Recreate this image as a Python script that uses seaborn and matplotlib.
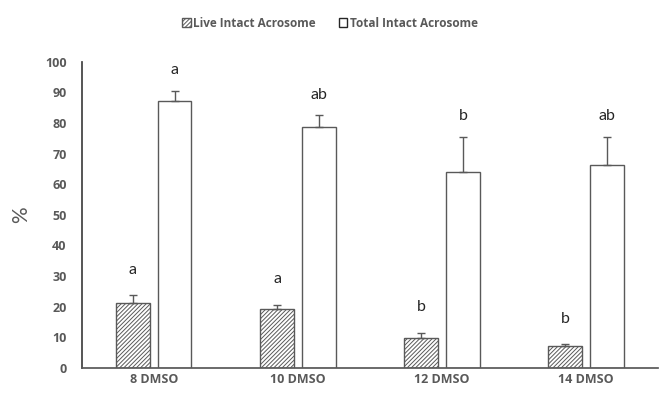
import seaborn as sns
import matplotlib.pyplot as plt
import pandas as pd
from matplotlib.patches import Patch

sns.set_theme(style="white")
plt.rcParams['font.family'] = ['Lato', 'DejaVu Sans']
plt.rcParams['hatch.color'] = '#7f7f7f'
plt.rcParams['hatch.linewidth'] = 0.7

groups = ['8 DMSO', '10 DMSO', '12 DMSO', '14 DMSO']
series = ['Live Intact Acrosome', 'Total Intact Acrosome']
live_mean = [21.1, 19.3, 9.9, 7.0]
live_err = [2.7, 1.3, 1.6, 0.8]
total_mean = [87.3, 78.6, 64.0, 66.3]
total_err = [3.2, 3.9, 11.4, 9.1]
live_letters = ['a', 'a', 'b', 'b']
total_letters = ['a', 'ab', 'b', 'ab']

df = pd.DataFrame({
    'group': groups * 2,
    'series': [series[0]] * 4 + [series[1]] * 4,
    'value': live_mean + total_mean,
    'err': live_err + total_err,
    'letter': live_letters + total_letters,
})

gray = '#595959'
bold_font = ['Open Sans', 'DejaVu Sans']
fig = plt.figure(figsize=(6.6, 3.99), dpi=100)
ax = fig.add_axes([0.124, 0.078, 0.873, 0.767])

sns.barplot(data=df, x='group', y='value', hue='series', order=groups, hue_order=series,
            palette={series[0]: 'white', series[1]: 'white'}, width=0.58, gap=0.2,
            errorbar=None, edgecolor=gray, linewidth=1.0, legend=False, ax=ax)

bars = ax.patches
for i, bar in enumerate(bars[:8]):
    s = 0 if i < 4 else 1
    g = i % 4
    row = df[(df.series == series[s]) & (df.group == groups[g])].iloc[0]
    if s == 0:
        bar.set_hatch('////////')
    xc = bar.get_x() + bar.get_width() / 2
    ax.errorbar(xc, row['value'], yerr=[[0], [row['err']]], fmt='none',
                ecolor=gray, elinewidth=1.0, capsize=3, capthick=1.0)
    off = 4.5 if s == 1 else 6
    ax.text(xc, row['value'] + row['err'] + off, row['letter'], ha='center', va='bottom',
            fontsize=11.5, color='#262626')

ax.set_ylim(0, 100)
ax.set_xlim(-0.5, 3.5)
ax.set_yticks(range(0, 101, 10))
ax.tick_params(axis='both', length=0, labelsize=9, colors=gray, pad=4)
ax.tick_params(axis='y', pad=11)
for lab in ax.get_xticklabels() + ax.get_yticklabels():
    lab.set_fontweight('bold')
    lab.set_family(bold_font)
ax.set_xlabel('')
ax.set_ylabel('%', fontsize=15, color=gray, labelpad=10)
for side in ['top', 'right']:
    ax.spines[side].set_visible(False)
ax.spines['left'].set_color('#404040')
ax.spines['bottom'].set_color(gray)

handles = [Patch(facecolor='white', edgecolor=gray, hatch='////////', label=series[0]),
           Patch(facecolor='white', edgecolor='#262626', label=series[1])]
leg = fig.legend(handles=handles, loc='center', bbox_to_anchor=(0.5, 0.942), ncol=2,
                 frameon=False, fontsize=8.5, handlelength=0.7, handleheight=0.7,
                 handletextpad=0.2, columnspacing=2.0)
for t in leg.get_texts():
    t.set_color(gray)
    t.set_fontweight('bold')
    t.set_family(bold_font)

plt.savefig('out.png', dpi=100)
